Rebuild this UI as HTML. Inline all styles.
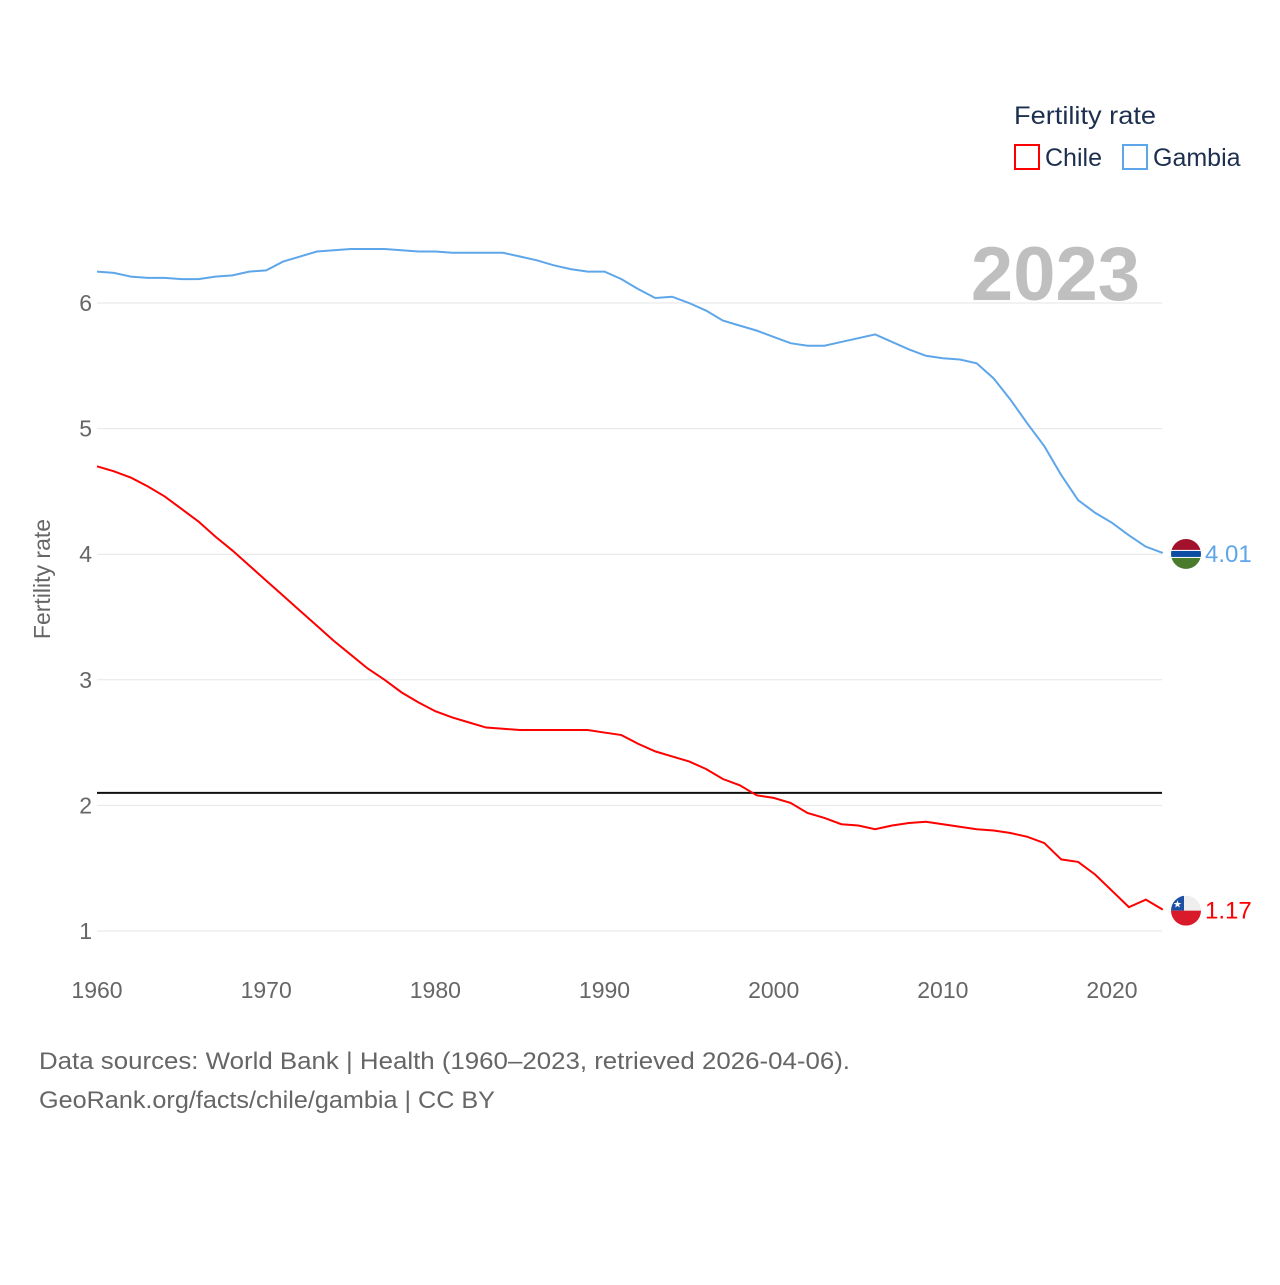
<!DOCTYPE html>
<html><head><meta charset="utf-8"><style>
html,body{margin:0;padding:0;background:#fff;}
svg text{font-family:"Liberation Sans",sans-serif;}
</style></head><body>
<svg id="chart" width="1280" height="1280" viewBox="0 0 1280 1280" xmlns="http://www.w3.org/2000/svg">
<g id="grid"></g>
<g id="yticks"></g>
<g id="xticks"></g>
<text x="50" y="579" transform="rotate(-90 50 579)" text-anchor="middle" font-size="23" fill="#666">Fertility rate</text>
<text x="1140" y="300" text-anchor="end" font-size="76" font-weight="bold" fill="#bfbfbf">2023</text>
<g>
<text x="1014" y="124" font-size="25" fill="#1d2f4e" textLength="142" lengthAdjust="spacingAndGlyphs">Fertility rate</text>
<rect x="1015" y="145" width="24" height="24" fill="none" stroke="#f00" stroke-width="2"/>
<text x="1045" y="166" font-size="25" fill="#1d2f4e">Chile</text>
<rect x="1123" y="145" width="24" height="24" fill="none" stroke="#5ea6ea" stroke-width="2"/>
<text x="1153" y="166" font-size="25" fill="#1d2f4e">Gambia</text>
</g>
<g id="series"></g>
<g>
<text x="39" y="1069" font-size="24" fill="#666" textLength="811" lengthAdjust="spacingAndGlyphs">Data sources: World Bank | Health (1960–2023, retrieved 2026-04-06).</text>
<text x="39" y="1108" font-size="24" fill="#666" textLength="456" lengthAdjust="spacingAndGlyphs">GeoRank.org/facts/chile/gambia | CC BY</text>
</g>
</svg>
<script>
const years = [];
for (let y = 1960; y <= 2023; y++) years.push(y);
const chile = [4.70,4.66,4.61,4.54,4.46,4.36,4.26,4.14,4.03,3.91,3.79,3.67,3.55,3.43,3.31,3.20,3.09,3.00,2.90,2.82,2.75,2.70,2.66,2.62,2.61,2.60,2.60,2.60,2.60,2.60,2.58,2.56,2.49,2.43,2.39,2.35,2.29,2.21,2.16,2.08,2.06,2.02,1.94,1.90,1.85,1.84,1.81,1.84,1.86,1.87,1.85,1.83,1.81,1.80,1.78,1.75,1.70,1.57,1.55,1.45,1.32,1.19,1.25,1.17];
const gambia = [6.25,6.24,6.21,6.20,6.20,6.19,6.19,6.21,6.22,6.25,6.26,6.33,6.37,6.41,6.42,6.43,6.43,6.43,6.42,6.41,6.41,6.40,6.40,6.40,6.40,6.37,6.34,6.30,6.27,6.25,6.25,6.19,6.11,6.04,6.05,6.00,5.94,5.86,5.82,5.78,5.73,5.68,5.66,5.66,5.69,5.72,5.75,5.69,5.63,5.58,5.56,5.55,5.52,5.40,5.23,5.04,4.86,4.63,4.43,4.33,4.25,4.15,4.06,4.01];
const yTicks = [1,2,3,4,5,6];
const xTicks = [1960,1970,1980,1990,2000,2010,2020];
const replacement = 2.1;
const chileLabel = "1.17", gambiaLabel = "4.01";

const NS = "http://www.w3.org/2000/svg";
const X = v => 97 + (v - 1960) * (1015 / 60);
const Y = v => 931 - (v - 1) * 125.6;
function mk(tag, attrs, parent) { const e = document.createElementNS(NS, tag); for (const k in attrs) e.setAttribute(k, attrs[k]); parent.appendChild(e); return e; }
const grid = document.getElementById('grid'), yt = document.getElementById('yticks'), xt = document.getElementById('xticks'), ser = document.getElementById('series');
yTicks.forEach(v => {
  const l = mk('line', {x1: 97, x2: 1162, y1: Y(v), y2: Y(v), stroke: '#e6e6e6', 'stroke-width': 1}, grid);
  
  
  const t = mk('text', {x: 92, y: Y(v) + 8, 'text-anchor': 'end', 'font-size': 23, fill: '#666'}, yt);
  t.textContent = v;
  
  
});
xTicks.forEach(v => {
  const t = mk('text', {x: X(v), y: 998, 'text-anchor': 'middle', 'font-size': 23, fill: '#666'}, xt);
  t.textContent = v;
  
  
});
const ref = mk('line', {x1: 97, x2: 1162, y1: Y(replacement), y2: Y(replacement), stroke: '#111', 'stroke-width': 2}, ser);


function line(vals, color, name) {
  const p = mk('polyline', {points: vals.map((v, i) => X(years[i]) + ',' + Y(v)).join(' '), fill: 'none', stroke: color, 'stroke-width': 2}, ser);
  
  
}
line(gambia, '#5ea6ea', 'line-gambia');
line(chile, '#f00', 'line-chile');
const fx = 1186;
const gy = Y(gambia[gambia.length - 1]) + 1;
const cy = Y(chile[chile.length - 1]) + 1;
const defs = mk('defs', {}, ser);
const cg = mk('clipPath', {id: 'cg'}, defs); mk('circle', {cx: fx, cy: gy, r: 15}, cg);
const cc = mk('clipPath', {id: 'cc'}, defs); mk('circle', {cx: fx, cy: cy, r: 15}, cc);
const gf = mk('g', {'clip-path': 'url(#cg)'}, ser);


mk('rect', {x: fx - 15, y: gy - 15, width: 30, height: 11, fill: '#a3122c'}, gf);
mk('rect', {x: fx - 15, y: gy - 4, width: 30, height: 8, fill: '#fff'}, gf);
mk('rect', {x: fx - 15, y: gy - 3, width: 30, height: 6, fill: '#0c4ca3'}, gf);
mk('rect', {x: fx - 15, y: gy + 4, width: 30, height: 11, fill: '#4a7a2c'}, gf);
const cf = mk('g', {'clip-path': 'url(#cc)'}, ser);


mk('rect', {x: fx - 15, y: cy - 15, width: 30, height: 15, fill: '#eee'}, cf);
mk('rect', {x: fx - 15, y: cy - 15, width: 13, height: 15, fill: '#1d4fa3'}, cf);
mk('rect', {x: fx - 15, y: cy, width: 30, height: 15, fill: '#d91a2a'}, cf);
const st = mk('text', {x: fx - 8.5, y: cy - 3, 'text-anchor': 'middle', 'font-size': 10, fill: '#fff'}, cf); st.textContent = '★';
const gl = mk('text', {x: 1205, y: gy + 8, 'font-size': 24, fill: '#5ea6ea'}, ser);
gl.textContent = gambiaLabel;


const cl = mk('text', {x: 1205, y: cy + 8, 'font-size': 24, fill: '#f00'}, ser);
cl.textContent = chileLabel;


</script>
</body></html>
